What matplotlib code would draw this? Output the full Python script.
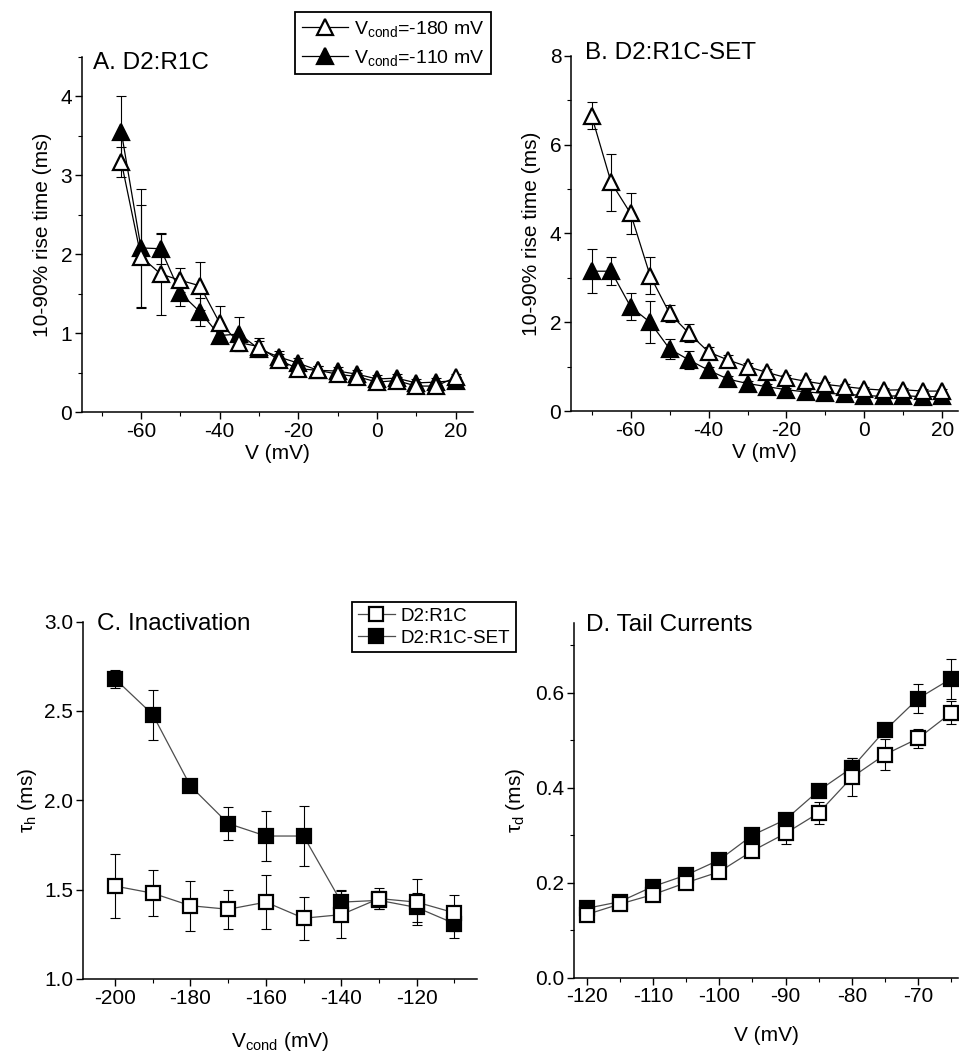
import matplotlib
matplotlib.use('Agg')
import matplotlib.pyplot as plt
from matplotlib.ticker import MultipleLocator
import numpy as np

plt.rcParams['font.family'] = ['Liberation Sans', 'DejaVu Sans']
plt.rcParams['mathtext.fontset'] = 'custom'
plt.rcParams['mathtext.rm'] = 'Liberation Sans'
plt.rcParams['mathtext.it'] = 'Liberation Sans:italic'
plt.rcParams['mathtext.default'] = 'regular'
plt.rcParams['axes.unicode_minus'] = False

#######################################################
# Data
# A. D2:R1C rise time
V_A = [-65, -60, -55, -50, -45, -40, -35, -30, -25, -20, -15, -10, -5, 0, 5, 10, 15, 20]
A_open = [3.17, 1.97, 1.75, 1.67, 1.60, 1.13, 0.88, 0.83, 0.66, 0.55, 0.53, 0.48, 0.45, 0.38, 0.40, 0.33, 0.33, 0.44]
A_open_err = [0.19, 0.65, 0.52, 0.15, 0.30, 0.22, 0.10, 0.11, 0.08, 0.06, 0.05, 0.05, 0.05, 0.05, 0.05, 0.05, 0.05, 0.04]
A_fill = [3.55, 2.08, 2.07, 1.51, 1.27, 0.97, 0.99, 0.80, 0.70, 0.62, 0.53, 0.52, 0.48, 0.42, 0.43, 0.37, 0.38, 0.40]
A_fill_err = [0.45, 0.75, 0.19, 0.16, 0.18, 0.07, 0.22, 0.10, 0.08, 0.06, 0.05, 0.05, 0.05, 0.05, 0.05, 0.05, 0.05, 0.04]

# B. D2:R1C-SET rise time
V_B = [-70, -65, -60, -55, -50, -45, -40, -35, -30, -25, -20, -15, -10, -5, 0, 5, 10, 15, 20]
B_open = [6.65, 5.15, 4.45, 3.05, 2.20, 1.75, 1.33, 1.15, 1.00, 0.87, 0.75, 0.67, 0.60, 0.55, 0.50, 0.47, 0.48, 0.45, 0.45]
B_open_err = [0.30, 0.65, 0.47, 0.42, 0.20, 0.20, 0.12, 0.12, 0.08, 0.07, 0.06, 0.05, 0.05, 0.05, 0.05, 0.05, 0.05, 0.05, 0.05]
B_fill = [3.15, 3.15, 2.35, 2.00, 1.40, 1.15, 0.92, 0.72, 0.62, 0.55, 0.48, 0.43, 0.40, 0.38, 0.35, 0.33, 0.35, 0.32, 0.33]
B_fill_err = [0.50, 0.32, 0.30, 0.47, 0.22, 0.21, 0.08, 0.07, 0.05, 0.05, 0.05, 0.05, 0.05, 0.05, 0.05, 0.05, 0.05, 0.05, 0.05]

# C. Inactivation
Vcond_C = [-200, -190, -180, -170, -160, -150, -140, -130, -120, -110]
C_open = [1.52, 1.48, 1.41, 1.39, 1.43, 1.34, 1.36, 1.45, 1.43, 1.37]
C_open_err = [0.18, 0.13, 0.14, 0.11, 0.15, 0.12, 0.13, 0.06, 0.13, 0.10]
C_fill = [2.68, 2.48, 2.08, 1.87, 1.80, 1.80, 1.43, 1.44, 1.40, 1.31]
C_fill_err = [0.05, 0.14, 0.02, 0.09, 0.14, 0.17, 0.07, 0.05, 0.08, 0.08]

# D. Tail currents
V_D = [-120, -115, -110, -105, -100, -95, -90, -85, -80, -75, -70, -65]
D_open = [0.133, 0.155, 0.175, 0.200, 0.223, 0.267, 0.304, 0.347, 0.422, 0.470, 0.504, 0.558]
D_open_err = [0.008, 0.008, 0.008, 0.008, 0.008, 0.010, 0.022, 0.023, 0.040, 0.033, 0.020, 0.024]
D_fill = [0.146, 0.160, 0.192, 0.216, 0.248, 0.300, 0.333, 0.394, 0.442, 0.521, 0.588, 0.630]
D_fill_err = [0.008, 0.008, 0.008, 0.008, 0.008, 0.008, 0.008, 0.010, 0.020, 0.010, 0.030, 0.042]

#######################################################
fig = plt.figure(figsize=(9.59, 10.54), dpi=100)

axA = fig.add_axes([0.0855, 0.609, 0.408, 0.337])
axB = fig.add_axes([0.5954, 0.610, 0.4035, 0.337])
axC = fig.add_axes([0.0865, 0.0712, 0.411, 0.339])
axD = fig.add_axes([0.5985, 0.0724, 0.4004, 0.3365])

tick_fs = 15
lab_fs = 15
title_fs = 17.5


def series(ax, x, y, err, marker, filled, ms, lc='black'):
    ax.errorbar(x, y, yerr=err, fmt='none', ecolor='black', elinewidth=0.8,
                capsize=3.5, capthick=0.8, zorder=2)
    line, = ax.plot(x, y, color=lc, lw=0.9, marker=marker, ms=ms,
                    mfc='black' if filled else 'white', mec='black', mew=1.6, zorder=3)
    return line


def style(ax):
    for s in ['top', 'right']:
        ax.spines[s].set_visible(False)
    for s in ['left', 'bottom']:
        ax.spines[s].set_linewidth(1.1)
    ax.tick_params(which='major', direction='out', length=5, width=1, labelsize=tick_fs, pad=2)
    ax.tick_params(which='minor', direction='out', length=3, width=0.8)


# Panel A
fA = series(axA, V_A, A_fill, A_fill_err, '^', True, 11)
oA = series(axA, V_A, A_open, A_open_err, '^', False, 11)
axA.set_xlim(-75, 24.5)
axA.set_ylim(0, 4.5)
axA.xaxis.set_major_locator(MultipleLocator(20))
axA.xaxis.set_minor_locator(MultipleLocator(10))
axA.yaxis.set_major_locator(MultipleLocator(1))
axA.yaxis.set_minor_locator(MultipleLocator(0.5))
axA.set_xlabel('V (mV)', fontsize=lab_fs, labelpad=2)
axA.set_ylabel('10-90% rise time (ms)', fontsize=lab_fs, labelpad=6)
axA.text(0.028, 1.015, 'A. D2:R1C', transform=axA.transAxes, fontsize=title_fs, va='top', ha='left')
style(axA)

# Panel B
series(axB, V_B, B_fill, B_fill_err, '^', True, 11)
series(axB, V_B, B_open, B_open_err, '^', False, 11)
axB.set_xlim(-75.3, 24)
axB.set_ylim(0, 8)
axB.xaxis.set_major_locator(MultipleLocator(20))
axB.xaxis.set_minor_locator(MultipleLocator(10))
axB.yaxis.set_major_locator(MultipleLocator(2))
axB.yaxis.set_minor_locator(MultipleLocator(1))
axB.set_xlabel('V (mV)', fontsize=lab_fs, labelpad=2)
axB.set_ylabel('10-90% rise time (ms)', fontsize=lab_fs, labelpad=6)
axB.text(0.036, 1.04, 'B. D2:R1C-SET', transform=axB.transAxes, fontsize=title_fs, va='top', ha='left')
style(axB)

fig.legend([oA, fA], [r'V$_{cond}$=-180 mV', r'V$_{cond}$=-110 mV'],
           loc='upper left', bbox_to_anchor=(0.3076, 0.9886), borderaxespad=0,
           fontsize=14, fancybox=False, framealpha=1, edgecolor='black',
           handlelength=2.4, handletextpad=0.3, borderpad=0.35, labelspacing=0.45)
fig.legends[0].get_frame().set_linewidth(1.3)

# Panel C
fC = series(axC, Vcond_C, C_fill, C_fill_err, 's', True, 10, lc='0.3')
oC = series(axC, Vcond_C, C_open, C_open_err, 's', False, 10, lc='0.3')
axC.set_xlim(-208.5, -104)
axC.set_ylim(1.0, 3.0)
axC.xaxis.set_major_locator(MultipleLocator(20))
axC.xaxis.set_minor_locator(MultipleLocator(10))
axC.yaxis.set_major_locator(MultipleLocator(0.5))
axC.set_xlabel(r'V$_{cond}$ (mV)', fontsize=lab_fs, labelpad=16)
axC.set_ylabel(r'τ$_{h}$ (ms)', fontsize=lab_fs, labelpad=4)
axC.text(0.035, 1.025, 'C. Inactivation', transform=axC.transAxes, fontsize=title_fs, va='top', ha='left')
style(axC)

fig.legend([oC, fC], ['D2:R1C', 'D2:R1C-SET'],
           loc='upper left', bbox_to_anchor=(0.367, 0.4288), borderaxespad=0,
           fontsize=13.5, fancybox=False, framealpha=1, edgecolor='black',
           handlelength=2.0, handletextpad=0.3, borderpad=0.3, labelspacing=0.25)
fig.legends[1].get_frame().set_linewidth(1.3)

# Panel D
series(axD, V_D, D_fill, D_fill_err, 's', True, 10, lc='0.3')
series(axD, V_D, D_open, D_open_err, 's', False, 10, lc='0.3')
axD.set_xlim(-121.9, -64.0)
axD.set_ylim(0, 0.747)
axD.xaxis.set_major_locator(MultipleLocator(10))
axD.xaxis.set_minor_locator(MultipleLocator(5))
axD.yaxis.set_major_locator(MultipleLocator(0.2))
axD.yaxis.set_minor_locator(MultipleLocator(0.1))
axD.yaxis.set_major_formatter(matplotlib.ticker.FormatStrFormatter('%.1f'))
axD.set_xlabel('V (mV)', fontsize=lab_fs, labelpad=14)
axD.set_ylabel(r'τ$_{d}$ (ms)', fontsize=lab_fs, labelpad=6)
axD.text(0.031, 1.025, 'D. Tail Currents', transform=axD.transAxes, fontsize=title_fs, va='top', ha='left')
style(axD)

plt.savefig('out.png', dpi=100)
